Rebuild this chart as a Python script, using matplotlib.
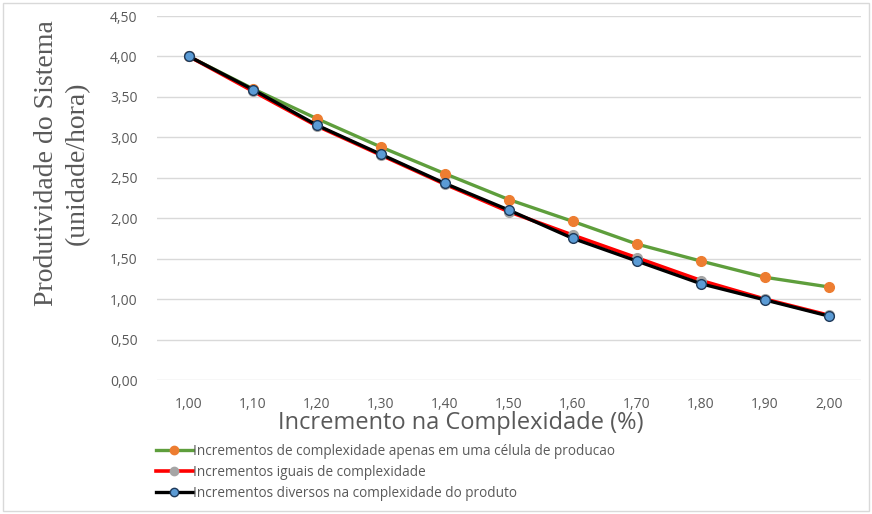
import matplotlib
matplotlib.use("Agg")
import matplotlib.pyplot as plt
from matplotlib.lines import Line2D

categories = ["1,00", "1,10", "1,20", "1,30", "1,40", "1,50", "1,60", "1,70", "1,80", "1,90", "2,00"]
serie_uma_celula = [4.00, 3.60, 3.23, 2.88, 2.55, 2.23, 1.96, 1.68, 1.47, 1.27, 1.15]
serie_iguais = [4.00, 3.57, 3.14, 2.78, 2.42, 2.08, 1.79, 1.51, 1.23, 1.00, 0.80]
serie_diversos = [4.00, 3.59, 3.15, 2.79, 2.43, 2.10, 1.75, 1.47, 1.19, 0.99, 0.79]
labels = ["Incrementos de complexidade apenas em uma célula de producao",
          "Incrementos iguais de complexidade",
          "Incrementos diversos na complexidade do produto"]
yticks = [0.0, 0.5, 1.0, 1.5, 2.0, 2.5, 3.0, 3.5, 4.0, 4.5]

fig = plt.figure(figsize=(8.72, 5.14), dpi=100)
ax = fig.add_axes([157/872, 1-380/514, (861-157)/872, (380-16)/514])

x = list(range(len(categories)))
ax.plot(x, serie_uma_celula, color="#5E9E3C", lw=2.4, marker="o", ms=7,
        mfc="#ED7D31", mec="#ED7D31", zorder=3)
ax.plot(x, serie_iguais, color="#FF0000", lw=2.6, marker="o", ms=7,
        mfc="#A5A5A5", mec="#A5A5A5", zorder=4)
ax.plot(x, serie_diversos, color="#000000", lw=2.4, marker="o", ms=7,
        mfc="#5B9BD5", mec="#1F3A5A", mew=1.0, zorder=5)

ax.set_xlim(-0.5, len(categories)-0.5)
ax.set_ylim(0, 4.5)
ax.set_yticks(yticks)
ax.set_yticklabels([f"{v:.2f}".replace(".", ",") for v in yticks])
ax.set_xticks(x)
ax.set_xticklabels(categories)
ax.grid(axis="y", color="#D9D9D9", lw=1)
ax.set_axisbelow(True)
for s in ax.spines.values():
    s.set_visible(False)
ax.tick_params(length=0, labelsize=10, labelcolor="#595959")
ax.tick_params(axis="x", pad=12)
ax.tick_params(axis="y", pad=14)
for t in ax.get_xticklabels() + ax.get_yticklabels():
    t.set_family("Open Sans")

fig.text(62/872, 1-163/514, "Produtividade do Sistema\n(unidade/hora)", rotation=90,
         ha="center", va="center", family="Liberation Serif", fontsize=20,
         color="#595959", linespacing=1.3)
fig.text(461/872, 1-423/514, "Incremento na Complexidade (%)", ha="center", va="center",
         family="Open Sans", fontsize=17, color="#595959")

handles = [
    Line2D([], [], color="#5E9E3C", lw=2.4, marker="o", ms=6, mfc="#ED7D31", mec="#ED7D31"),
    Line2D([], [], color="#FF0000", lw=2.6, marker="o", ms=6, mfc="#A5A5A5", mec="#A5A5A5"),
    Line2D([], [], color="#000000", lw=2.4, marker="o", ms=6, mfc="#5B9BD5", mec="#1F3A5A"),
]
leg = fig.legend(handles, labels, loc="upper left", bbox_to_anchor=(145/872, 1-433/514),
                 frameon=False, handlelength=2.7, handletextpad=0.05, labelspacing=0.45,
                 borderpad=0.3, prop={"family": "Open Sans", "size": 9.8})
for t in leg.get_texts():
    t.set_color("#595959")

fig.patches.append(plt.Rectangle((3/872, 3/514), 866/872, 508/514, transform=fig.transFigure,
                                 fill=False, edgecolor="#D9D9D9", lw=1))
fig.savefig("out.png", dpi=100)
